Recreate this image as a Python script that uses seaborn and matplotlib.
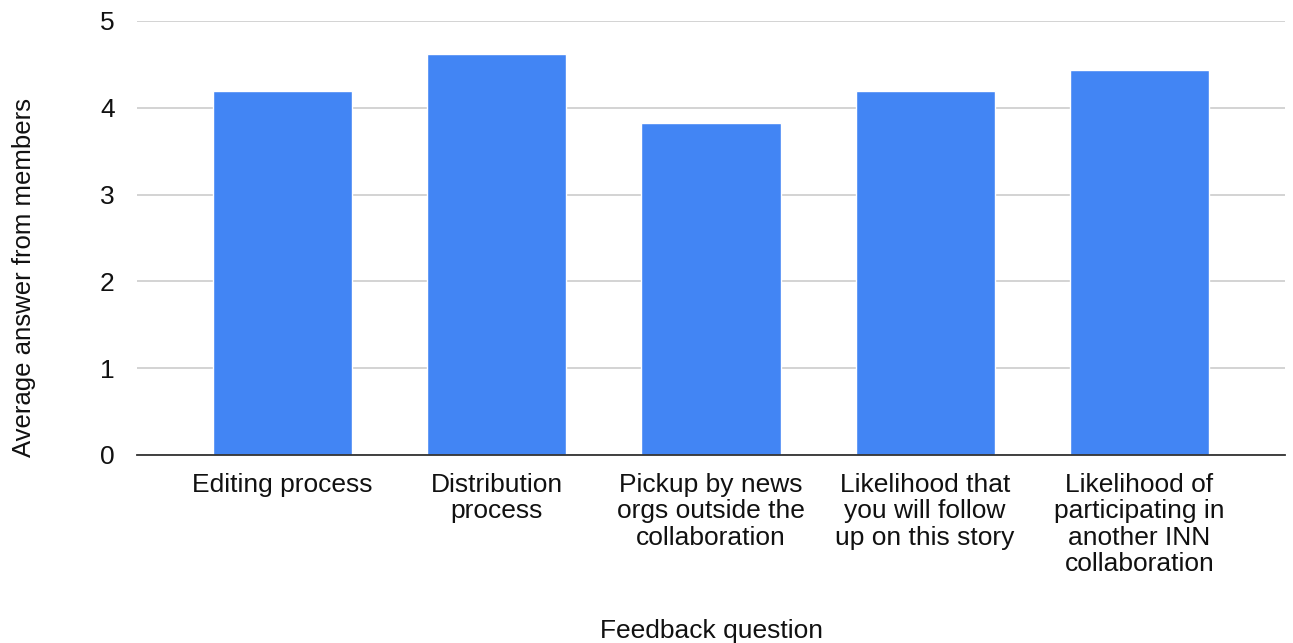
import pandas as pd
import matplotlib.pyplot as plt
import seaborn as sns

questions = [
    "Editing process",
    "Distribution\nprocess",
    "Pickup by news\norgs outside the\ncollaboration",
    "Likelihood that\nyou will follow\nup on this story",
    "Likelihood of\nparticipating in\nanother INN\ncollaboration",
]
avg_answer = [4.19, 4.625, 3.83, 4.19, 4.44]

df = pd.DataFrame({"question": questions, "avg": avg_answer})

sns.set_style("white")
plt.rcParams["font.family"] = ["Liberation Sans", "DejaVu Sans"]

fig = plt.figure(figsize=(12.93, 6.43), dpi=100)
ax = fig.add_axes([137 / 1293, 1 - 455 / 643, 1148 / 1293, 434 / 643])

sns.barplot(data=df, x="question", y="avg", color="#4285F4", width=0.65,
            saturation=1, ax=ax, zorder=3)

ax.set_ylim(0, 5)
ax.set_xlim(-0.68, 4.68)
ax.set_yticks([0, 1, 2, 3, 4, 5])
ax.yaxis.grid(True, color="#cccccc", linewidth=1.2, zorder=0)
ax.set_axisbelow(True)

for side in ["top", "right", "left"]:
    ax.spines[side].set_visible(False)
ax.spines["bottom"].set_color("#333333")
ax.spines["bottom"].set_linewidth(1.3)
ax.spines["bottom"].set_zorder(4)

ax.tick_params(axis="x", length=0, pad=13, labelsize=19, colors="#111111")
ax.tick_params(axis="y", length=0, pad=16, labelsize=19, colors="#111111")
for lbl in ax.get_xticklabels():
    lbl.set_linespacing(1.12)

ax.set_xlabel("Feedback question", fontsize=19, color="#111111", labelpad=0)
ax.xaxis.set_label_coords(0.5, -0.378)
ax.set_ylabel("Average answer from members", fontsize=18.5, color="#111111")
ax.yaxis.set_label_coords(-0.088, 0.41)

fig.savefig("out.png", dpi=100)
